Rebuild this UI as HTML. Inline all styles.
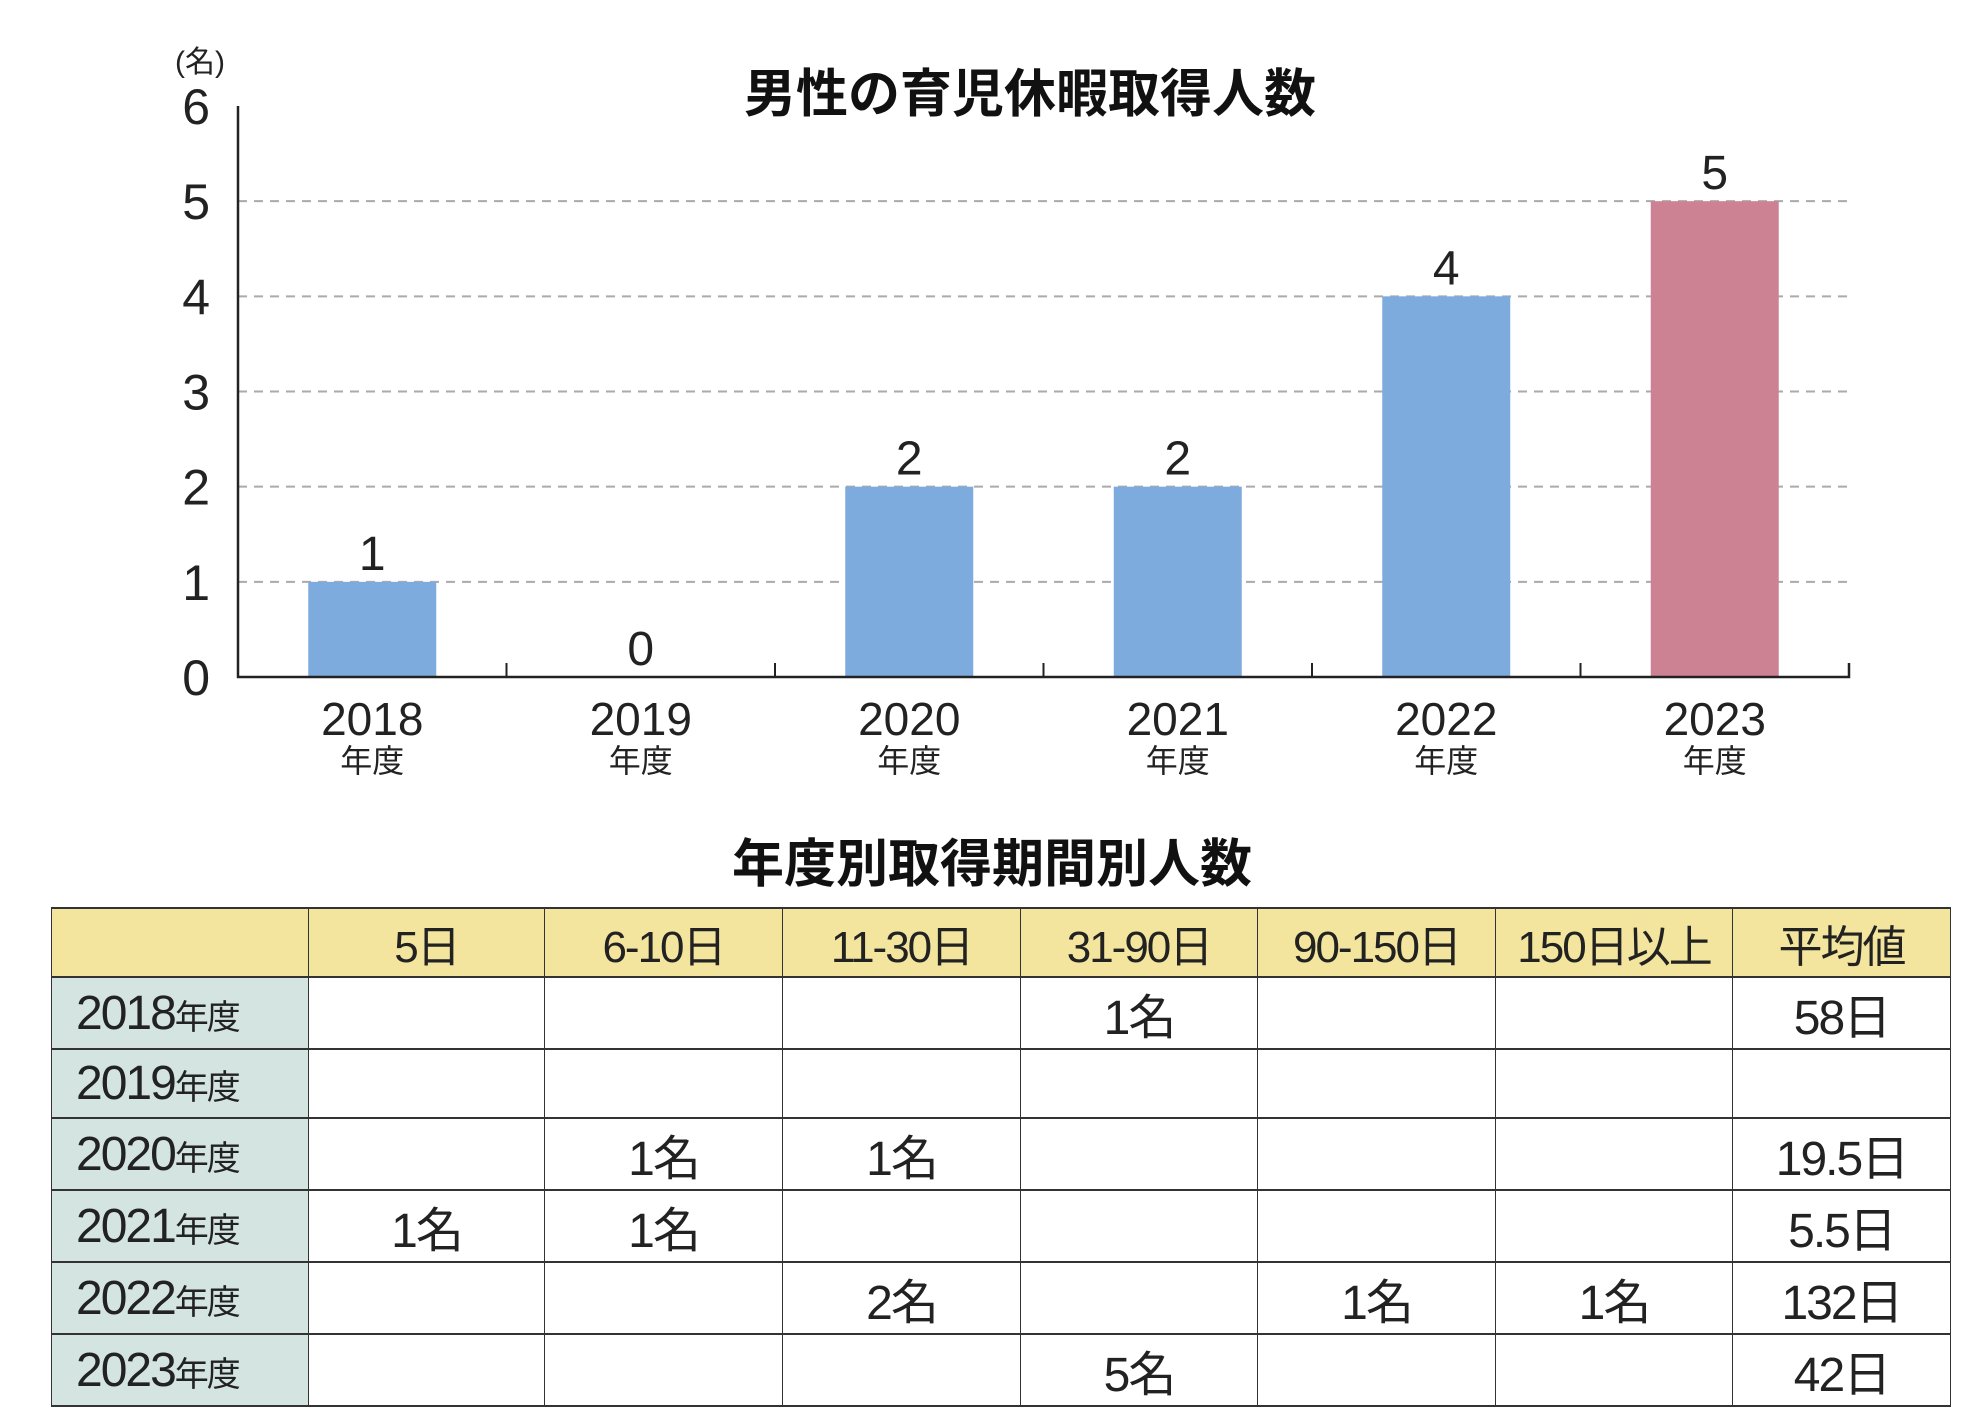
<!DOCTYPE html>
<html><head><meta charset="utf-8">
<style>
body{margin:0;background:#fff;width:1984px;height:1424px;overflow:hidden;position:relative;font-family:"Liberation Sans","Noto Sans CJK JP",sans-serif;}
svg{position:absolute;left:0;top:0}
.title{position:absolute;font-weight:bold;font-size:52px;color:#111;text-align:center;}
table{position:absolute;left:51px;top:907px;width:1899px;border-collapse:collapse;table-layout:fixed;}
td{height:67px;border:1px solid #333;border-top:2px solid #333;border-bottom:2px solid #333;text-align:center;font-size:48px;color:#222;padding:0;letter-spacing:-2px;}
tr.hd td{background:#f3e59d;font-size:44px;}
td.yr{background:#d3e4e1;text-align:left;padding-left:24px;}
td.yr span{font-size:34px;}
</style></head><body>
<svg id="chart" width="1984" height="880"></svg>
<div class="title" style="left:0;width:2060px;top:52px">男性の育児休暇取得人数</div>
<div class="title" style="left:0;width:1984px;top:822px">年度別取得期間別人数</div>
<table>
<colgroup><col style="width:257px"><col style="width:236px"><col style="width:238px"><col style="width:238px"><col style="width:237px"><col style="width:238px"><col style="width:237px"><col style="width:218px"></colgroup>
<tr class="hd"><td></td><td>5日</td><td>6-10日</td><td>11-30日</td><td>31-90日</td><td>90-150日</td><td>150日以上</td><td>平均値</td></tr>
<tr><td class="yr">2018<span>年度</span></td><td></td><td></td><td></td><td>1名</td><td></td><td></td><td>58日</td></tr>
<tr><td class="yr">2019<span>年度</span></td><td></td><td></td><td></td><td></td><td></td><td></td><td></td></tr>
<tr><td class="yr">2020<span>年度</span></td><td></td><td>1名</td><td>1名</td><td></td><td></td><td></td><td>19.5日</td></tr>
<tr><td class="yr">2021<span>年度</span></td><td>1名</td><td>1名</td><td></td><td></td><td></td><td></td><td>5.5日</td></tr>
<tr><td class="yr">2022<span>年度</span></td><td></td><td></td><td>2名</td><td></td><td>1名</td><td>1名</td><td>132日</td></tr>
<tr><td class="yr">2023<span>年度</span></td><td></td><td></td><td></td><td>5名</td><td></td><td></td><td>42日</td></tr>
</table>
<script>
const categories=["2018","2019","2020","2021","2022","2023"];
const values=[1,0,2,2,4,5];
const yTicks=[0,1,2,3,4,5,6];
const svg=document.getElementById('chart');
const NS='http://www.w3.org/2000/svg';
const x0=238,x1=1849,yBase=677,yTop=106,yMax=6;
const band=(x1-x0)/categories.length;
function xC(i){return x0+band*(i+0.5);}
function yS(v){return yBase-(yBase-yTop)*v/yMax;}
function mk(t,a){const e=document.createElementNS(NS,t);for(const k in a)e.setAttribute(k,a[k]);svg.appendChild(e);return e;}
yTicks.forEach(v=>{
  if(v>0&&v<yMax){const g=mk('line',{x1:x0,x2:x1,y1:yS(v),y2:yS(v),stroke:'#aaa','stroke-width':2,'stroke-dasharray':'9 7'});
  
  }
  const t=mk('text',{x:210,y:yS(v)+18,'text-anchor':'end','font-size':50,fill:'#222'});
  t.textContent=v;
  
  
});
const u=mk('text',{x:200,y:72,'text-anchor':'middle','font-size':30,fill:'#222'});u.textContent='(名)';


categories.forEach((c,i)=>{
  const v=values[i];
  const b=mk('rect',{x:xC(i)-64,y:yS(v),width:128,height:yBase-yS(v),fill:i===5?'#cd8294':'#7eabdd'});
  
  
  const l=mk('text',{x:xC(i),y:yS(v)-12,'text-anchor':'middle','font-size':48,fill:'#222'});l.textContent=v;
  
  
  const a=mk('text',{x:xC(i),y:735,'text-anchor':'middle','font-size':46,fill:'#222'});a.textContent=c;
  
  
  const b2=mk('text',{x:xC(i),y:772,'text-anchor':'middle','font-size':32,fill:'#222'});b2.textContent='年度';
  
  
  if(i>0){const tk=mk('line',{x1:x0+band*i,x2:x0+band*i,y1:yBase-14,y2:yBase,stroke:'#222','stroke-width':2});
  
  }
});
const ax=mk('path',{d:`M${x0},${yTop} V${yBase} H${x1} V${yBase-14}`,fill:'none',stroke:'#222','stroke-width':2.5});


</script>
</body></html>
